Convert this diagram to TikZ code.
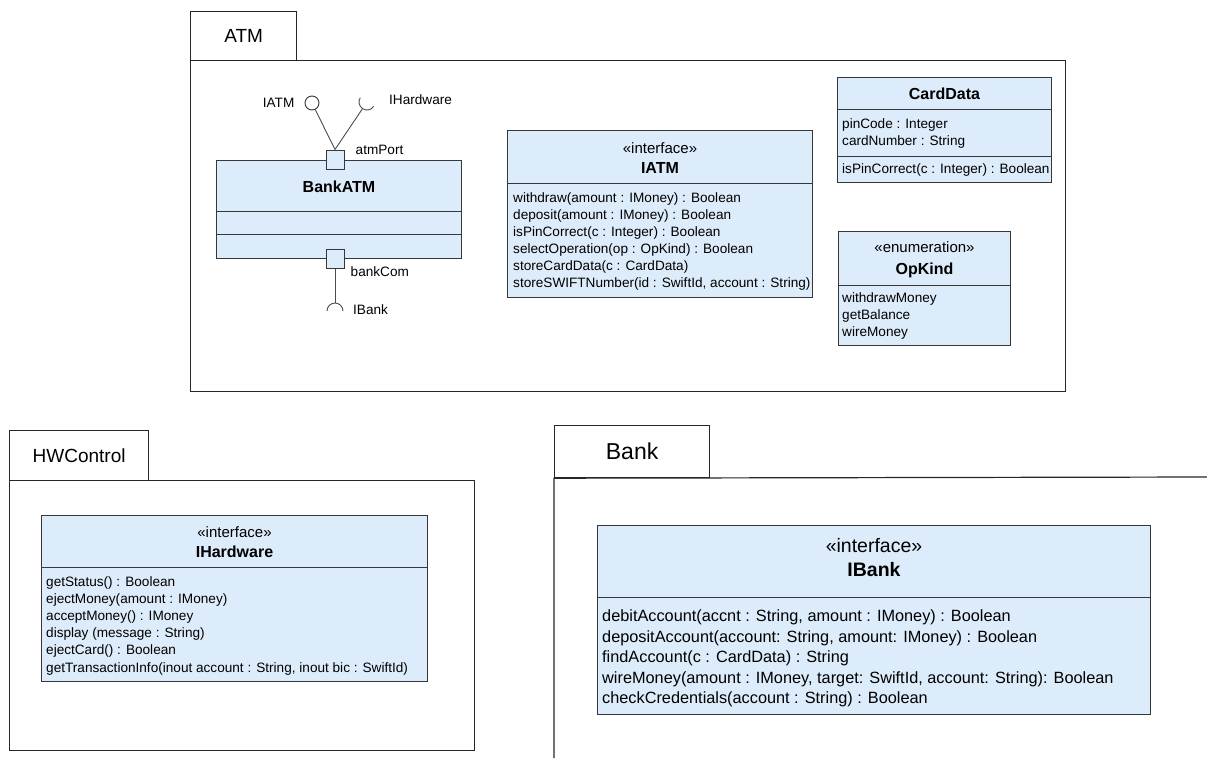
\documentclass[tikz,border=0pt]{standalone}
\usepackage{fontspec}
\setmainfont{Liberation Sans}
\usetikzlibrary{calc,positioning}
\definecolor{classfill}{RGB}{221,236,250}
\definecolor{classline}{RGB}{55,55,55}
\tikzset{>=latex}

\begin{document}
\begin{tikzpicture}[x=1pt, y=-1pt,
		every node/.style={inner sep=0pt},
		pkg/.style={draw=black!85, line width=1.2pt, anchor=north west},
		classbox/.style={draw=classline, fill=classfill, line width=1pt, anchor=north west},
		port/.style={draw=classline, fill=classfill, line width=1pt, minimum width=18pt, minimum height=19pt},
		sep/.style={draw=classline, line width=1pt},
		conn/.style={draw=black!70, line width=0.9pt},
		members/.style={align=left, anchor=base west, font=\fontsize{13.6}{17}\selectfont},
		lbl/.style={font=\fontsize{13.6}{16}\selectfont},
		stereo/.style={anchor=base, font=\fontsize{15}{18}\selectfont},
		cname/.style={anchor=base, font=\fontsize{16}{19}\selectfont\bfseries},
		pkgname/.style={font=\fontsize{19}{22}\selectfont}]
		\useasboundingbox (0,0) rectangle (1207,758);
		
		% package ATM
		\node[pkg, minimum width=106pt, minimum height=49pt] (atmtab) at (190,11) {};
		\node[pkgname] at (atmtab.center) {ATM};
		\node[pkg, minimum width=875pt, minimum height=331pt] (atm) at (190,60) {};
		
		\node[classbox, minimum width=245pt, minimum height=98pt] (bankatm) at (216,160) {};
		\draw[sep] ([yshift=-51pt]bankatm.north west) -- ([yshift=-51pt]bankatm.north east);
		\draw[sep] ([yshift=-74pt]bankatm.north west) -- ([yshift=-74pt]bankatm.north east);
		\node[cname] at ([yshift=-32.5pt]bankatm.north) {BankATM};
		
		\node[port] (atmport) at (335,159.5) {};
		\node[port] (bankport) at (335,258.5) {};
		\node[lbl, anchor=west] at ([xshift=11pt,yshift=9.5pt]atmport.east) {atmPort};
		\node[lbl, anchor=west] at ([xshift=6pt,yshift=-13.5pt]bankport.east) {bankCom};
		
		\node[draw=classline, fill=white, circle, minimum size=14pt, line width=0.9pt] (iatmball) at (312,103) {};
		\coordinate (hwsock) at (367,102);
		\coordinate (banksock) at (335,311);
		\draw[conn] (atmport.north) -- (iatmball);
		\draw[conn] (atmport.north) -- ($(hwsock)!8pt!(atmport.north)$);
		\draw[conn] ($(hwsock)+(33:8)$) arc[start angle=33, end angle=213, radius=8];
		\draw[conn] (bankport.south) -- ($(banksock)+(0,-8)$);
		\draw[conn] ($(banksock)+(0:8)$) arc[start angle=0, end angle=-180, radius=8];
		\node[lbl, anchor=east] at ([xshift=-10pt]iatmball.west) {IATM};
		\node[lbl, anchor=west] at ([xshift=22pt,yshift=2pt]hwsock) {IHardware};
		\node[lbl, anchor=west] at ([xshift=18pt,yshift=1pt]banksock) {IBank};
		
		% members nodes sit on the baseline of their last line
		\node[classbox, minimum width=305pt, minimum height=167pt] (iatm) at (507,130) {};
		\draw[sep] ([yshift=-53pt]iatm.north west) -- ([yshift=-53pt]iatm.north east);
		\node[stereo] at ([yshift=-23pt]iatm.north) {«interface»};
		\node[cname] at ([yshift=-43pt]iatm.north) {IATM};
		\node[members] (iatmops) at (513,287.5) {withdraw(amount : IMoney) : Boolean\\
			deposit(amount : IMoney) : Boolean\\
			isPinCorrect(c : Integer) : Boolean\\
			selectOperation(op : OpKind) : Boolean\\
			storeCardData(c : CardData)\\
			storeSWIFTNumber(id : SwiftId, account : String)};
		
		\node[classbox, minimum width=214pt, minimum height=105pt] (carddata) at (837,77) {};
		\draw[sep] ([yshift=-32pt]carddata.north west) -- ([yshift=-32pt]carddata.north east);
		\draw[sep] ([yshift=-79pt]carddata.north west) -- ([yshift=-79pt]carddata.north east);
		\node[cname] at ([yshift=-22.3pt]carddata.north) {CardData};
		\node[members] (cardattrs) at (842,145.5) {pinCode : Integer\\cardNumber : String};
		\node[members] (cardops) at (842,173) {isPinCorrect(c : Integer) : Boolean};
		
		\node[classbox, minimum width=172pt, minimum height=114pt] (opkind) at (838,231) {};
		\draw[sep] ([yshift=-54pt]opkind.north west) -- ([yshift=-54pt]opkind.north east);
		\node[stereo] at ([yshift=-21.5pt]opkind.north) {«enumeration»};
		\node[cname] at ([yshift=-43pt]opkind.north) {OpKind};
		\node[members] (opkindlits) at (842,336) {withdrawMoney\\getBalance\\wireMoney};
		
		% package HWControl
		\node[pkg, minimum width=139pt, minimum height=50pt] (hwtab) at (9,430) {};
		\node[pkgname] at (hwtab.center) {HWControl};
		\node[pkg, minimum width=465pt, minimum height=270pt] (hw) at (9,480) {};
		
		\node[classbox, minimum width=386pt, minimum height=166pt] (ihw) at (41,515) {};
		\draw[sep] ([yshift=-52pt]ihw.north west) -- ([yshift=-52pt]ihw.north east);
		\node[stereo] at ([yshift=-22pt]ihw.north) {«interface»};
		\node[cname] at ([yshift=-42.5pt]ihw.north) {IHardware};
		\node[members, font=\fontsize{13.6}{17.1}\selectfont] (ihwops) at (46,672) {getStatus() : Boolean\\
			ejectMoney(amount : IMoney)\\
			acceptMoney() : IMoney\\
			display (message : String)\\
			ejectCard() : Boolean\\
			getTransactionInfo(inout account : String, inout bic : SwiftId)};
		
		% package Bank
		\node[pkg, minimum width=155pt, minimum height=52pt] (banktab) at (554,425) {};
		\node[pkgname, font=\fontsize{23}{26}\selectfont] at (banktab.center) {Bank};
		\draw[draw=black!85, line width=1.2pt] (1207,477) -- (banktab.south west) -- (554,758);
		
		\node[classbox, minimum width=553pt, minimum height=189pt] (ibank) at (597,525) {};
		\draw[sep] ([yshift=-72pt]ibank.north west) -- ([yshift=-72pt]ibank.north east);
		\node[stereo, font=\fontsize{19.5}{22}\selectfont] at ([yshift=-27pt]ibank.north) {«interface»};
		\node[cname, font=\fontsize{19.5}{22}\selectfont\bfseries] at ([yshift=-51pt]ibank.north) {IBank};
		\node[members, font=\fontsize{16.3}{20.5}\selectfont] (ibankops) at (602,703.5) {debitAccount(accnt : String, amount : IMoney) : Boolean\\
			depositAccount(account: String, amount: IMoney) : Boolean\\
			findAccount(c : CardData) : String\\
			wireMoney(amount : IMoney, target: SwiftId, account: String): Boolean\\
			checkCredentials(account : String) : Boolean};
	\end{tikzpicture}
\end{document}
